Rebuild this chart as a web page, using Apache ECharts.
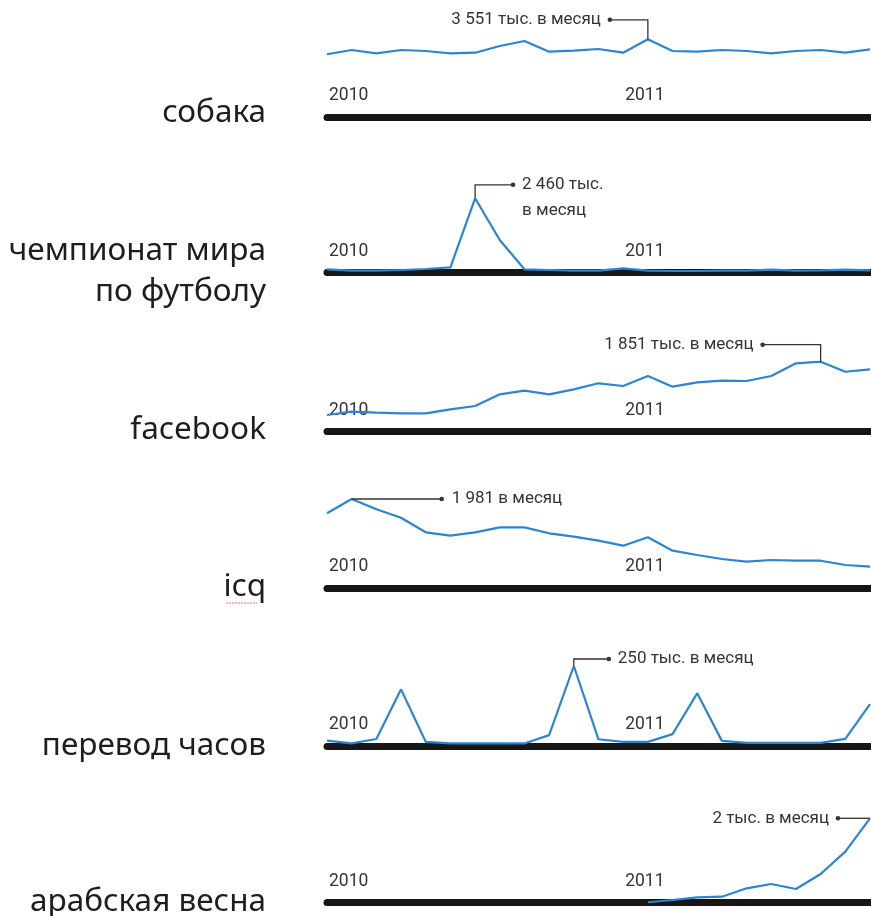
<!DOCTYPE html>
<html>
<head>
<meta charset="utf-8">
<script src="https://cdn.jsdelivr.net/npm/echarts@6/dist/echarts.min.js"></script>
<style>
  html, body { margin: 0; padding: 0; background: #fff; }
  #chart { width: 871px; height: 916px; }
</style>
</head>
<body>
<div id="chart"></div>
<script>
// месяцы: декабрь 2009 — октябрь 2011
var months = ['2009-12','2010-01','2010-02','2010-03','2010-04','2010-05','2010-06','2010-07',
  '2010-08','2010-09','2010-10','2010-11','2010-12','2011-01','2011-02','2011-03','2011-04',
  '2011-05','2011-06','2011-07','2011-08','2011-09','2011-10'];
var yearLabels = ['2010', '2011'];
var yearLabelIndex = [0, 12];

var topics = ['собака', 'чемпионат мира\nпо футболу', 'facebook', 'icq', 'перевод часов', 'арабская весна'];

// запросов в месяц
var dog = [2866, 3062, 2911, 3062, 3016, 2911, 2939, 3245, 3473, 2984, 3030, 3108, 2939, 3551,
  3016, 2984, 3062, 3016, 2911, 3016, 3062, 2939, 3094];
var worldCup = [112, 66, 66, 89, 122, 178, 2460, 1081, 112, 89, 66, 66, 145, 66,
  56, 56, 66, 66, 99, 66, 78, 99, 78];
var facebook = [442, 529, 502, 486, 486, 592, 680, 989, 1084, 989, 1121, 1280, 1208, 1473,
  1190, 1306, 1348, 1340, 1473, 1808, 1851, 1586, 1650];
var icq = [1664, 1981, 1752, 1566, 1242, 1167, 1242, 1353, 1353, 1220, 1145, 1056, 945, 1131,
  834, 739, 650, 590, 628, 612, 612, 517, 479];
var clockChange = [17, 8, 22, 177, 13, 8, 8, 8, 8, 34, 250, 21, 13, 13,
  37, 165, 16, 10, 10, 10, 10, 22, 131];
var arabSpring = [null, null, null, null, null, null, null, null, null, null, null, null, null, 10,
  64, 128, 142, 341, 443, 325, 680, 1209, 2000];

var seriesData = [dog, worldCup, facebook, icq, clockChange, arabSpring];
var peakIndex = [13, 6, 20, 1, 10, 22];
var peakNotes = ['3 551 тыс. в месяц', '2 460 тыс.\nв месяц', '1 851 тыс. в месяц',
  '1 981 в месяц', '250 тыс. в месяц', '2 тыс. в месяц'];

// раскладка панелей (пиксели)
var barTop = [117, 272.7, 431.7, 588.3, 746, 902.7];
var plotHeight = [77.7, 74.4, 70, 89.3, 80, 84.4];
var labelMiddle = [113, 272, 430, 587, 746, 902];
// выноски: изломы относительно пика, положение текста
var notePath = [
  [[0, -19.5], [-38, -19.5]],
  [[0, -13.5], [38, -13.5]],
  [[0, -17], [-58, -17]],
  [[90, 0]],
  [[0, -7], [35, -7]],
  [[-32, 0]]
];
var noteText = [[-47, -19.5, 'right'], [47, -27, 'left'], [-67, -17, 'right'],
  [100, 0, 'left'], [44, -7, 'left'], [-41, 0, 'right']];

var blue = '#2b85d2';
var ink = '#37332f';

var myChart = echarts.init(document.getElementById('chart'));

var grids = [], xAxes = [], yAxes = [], series = [];
seriesData.forEach(function (data, i) {
  grids.push({ left: 327, width: 543, top: barTop[i] - plotHeight[i], height: plotHeight[i] });
  xAxes.push({
    gridIndex: i,
    type: 'category',
    data: months,
    boundaryGap: false,
    offset: 3.5,
    axisLine: { lineStyle: { color: '#161616', width: 7 } },
    axisTick: { show: false },
    splitLine: { show: false },
    axisLabel: {
      inside: true,
      interval: function (idx) { return yearLabelIndex.indexOf(idx) >= 0; },
      formatter: function (v, idx) {
        var k = yearLabelIndex.indexOf(idx);
        return k >= 0 ? yearLabels[k] : '';
      },
      align: 'left',
      padding: [0, 0, 0, 2],
      margin: 16,
      color: ink,
      fontFamily: 'Roboto',
      fontSize: 17.5
    }
  });
  yAxes.push({ gridIndex: i, type: 'value', min: 0, max: 'dataMax', show: false });
  series.push({
    type: 'line',
    xAxisIndex: i,
    yAxisIndex: i,
    data: data,
    symbol: 'none',
    z: 5,
    lineStyle: { color: blue, width: 2.2 }
  });
});

myChart.setOption({
  backgroundColor: '#fff',
  animation: false,
  grid: grids,
  xAxis: xAxes,
  yAxis: yAxes,
  series: series
});

// подписи тем и выноски с пиками
var graphics = [];
topics.forEach(function (t, i) {
  graphics.push({
    type: 'text',
    x: 266,
    y: labelMiddle[i],
    style: {
      text: t,
      fill: '#1e1e1e',
      font: '31.5px "Noto Sans"',
      align: 'right',
      verticalAlign: 'middle',
      lineHeight: 41
    }
  });
});

seriesData.forEach(function (data, i) {
  var p = myChart.convertToPixel({ gridIndex: i }, [peakIndex[i], data[peakIndex[i]]]);
  var pts = [p].concat(notePath[i].map(function (d) { return [p[0] + d[0], p[1] + d[1]]; }));
  var end = pts[pts.length - 1];
  graphics.push({
    type: 'polyline',
    z: 10,
    shape: { points: pts },
    style: { stroke: ink, lineWidth: 1.3, fill: null }
  });
  graphics.push({
    type: 'circle',
    z: 10,
    shape: { cx: end[0], cy: end[1], r: 2.3 },
    style: { fill: ink }
  });
  graphics.push({
    type: 'text',
    z: 10,
    x: p[0] + noteText[i][0],
    y: p[1] + noteText[i][1],
    style: {
      text: peakNotes[i],
      fill: ink,
      font: '17px Roboto',
      align: noteText[i][2],
      verticalAlign: i === 1 ? 'top' : 'middle',
      lineHeight: 26
    }
  });
});

// красное подчёркивание под «icq», как в исходной картинке
graphics.push({
  type: 'line',
  shape: { x1: 226, y1: 603, x2: 257, y2: 603 },
  style: { stroke: '#e07070', lineWidth: 1, lineDash: [2, 1] }
});

myChart.setOption({ graphic: graphics });

window.addEventListener('resize', function () {
  if (myChart) { myChart.resize(); }
});
</script>
</body>
</html>
